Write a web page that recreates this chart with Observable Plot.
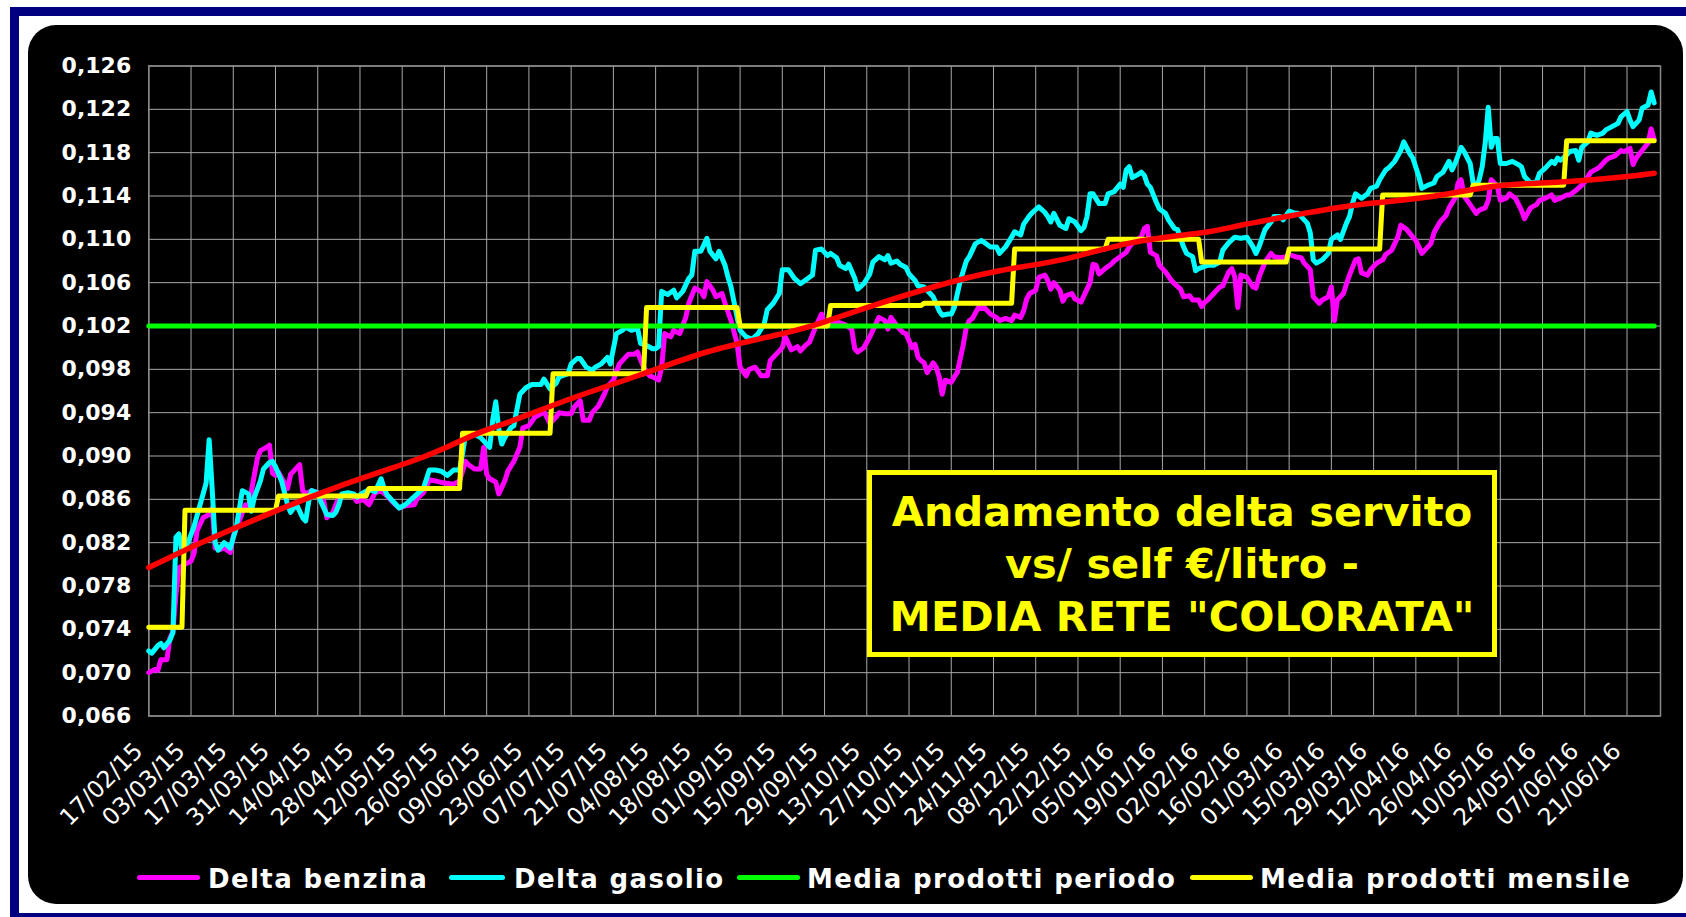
<!DOCTYPE html>
<html><head><meta charset="utf-8">
<script src="https://cdn.jsdelivr.net/npm/d3@7"></script>
<script src="https://cdn.jsdelivr.net/npm/@observablehq/plot@0.6"></script>
<style>
html,body{margin:0;padding:0;background:#fff;width:1686px;height:917px;overflow:hidden;font-family:"DejaVu Sans",Verdana,sans-serif;}
#frame{position:absolute;left:10px;top:7px;width:1720px;height:897px;border:9px solid #000080;background:#fff;}
#panel{position:absolute;left:28px;top:25px;width:1655px;height:879px;border-radius:28px;background:#000;}
#chart{position:absolute;left:0;top:0;}
#box{position:absolute;left:867px;top:469.5px;width:630px;height:187px;box-sizing:border-box;border:5px solid #ffff00;background:#000;color:#ffff00;font-weight:bold;font-size:41.5px;line-height:52.5px;text-align:center;padding-top:11px;white-space:nowrap;}
.lg-line{position:absolute;height:5px;border-radius:3px;top:874.5px;}
.lg-text{position:absolute;top:866px;font-size:26px;line-height:26px;letter-spacing:1.4px;font-weight:bold;color:#fff;white-space:nowrap;}
</style></head><body>
<div id="frame"></div>
<div id="panel"></div>
<div id="chart"></div>
<div id="box"><div>Andamento delta servito</div><div>vs/ self €/litro -</div><div>MEDIA RETE "COLORATA"</div></div>
<div id="legend"></div>
<script>
// ---- data (day offset from start date, value in €/litro) ----
const startDate = "2015-02-17";
const axisEndDay = 501.1;

const xTickLabels = ["17/02/15","03/03/15","17/03/15","31/03/15","14/04/15","28/04/15","12/05/15","26/05/15","09/06/15","23/06/15","07/07/15","21/07/15","04/08/15","18/08/15","01/09/15","15/09/15","29/09/15","13/10/15","27/10/15","10/11/15","24/11/15","08/12/15","22/12/15","05/01/16","19/01/16","02/02/16","16/02/16","01/03/16","15/03/16","29/03/16","12/04/16","26/04/16","10/05/16","24/05/16","07/06/16","21/06/16"];
const yTicks = [0.066,0.070,0.074,0.078,0.082,0.086,0.090,0.094,0.098,0.102,0.106,0.110,0.114,0.118,0.122,0.126];

const benzina = [[0,0.0700],[2,0.0703],[3,0.0702],[4,0.0712],[6,0.0712],[7,0.0732],[8,0.0738],[9,0.0772],[10,0.0797],[12,0.0800],[14,0.0803],[15,0.0810],[16,0.0831],[18,0.0843],[20,0.0846],[21,0.0852],[22,0.0815],[24,0.0814],[25,0.0815],[27,0.0811],[28,0.0826],[30,0.0840],[32,0.0855],[33,0.0852],[36,0.0898],[37,0.0905],[39,0.0908],[40,0.0910],[41,0.0884],[42,0.0882],[43,0.0885],[46,0.0870],[47,0.0883],[49,0.0889],[50,0.0892],[51,0.0868],[52,0.0865],[54,0.0868],[56,0.0866],[58,0.0858],[59,0.0843],[61,0.0848],[63,0.0862],[66,0.0865],[68,0.0862],[69,0.0858],[71,0.0860],[73,0.0855],[75,0.0866],[77,0.0868],[79,0.0863],[81,0.0857],[83,0.0852],[85,0.0854],[88,0.0855],[89,0.0861],[91,0.0866],[93,0.0878],[95,0.0877],[98,0.0875],[101,0.0874],[103,0.0877],[105,0.0895],[106,0.0892],[108,0.0888],[110,0.0888],[111,0.0908],[112,0.0883],[113,0.0879],[115,0.0876],[116,0.0865],[118,0.0877],[119,0.0886],[121,0.0895],[123,0.0908],[124,0.0926],[126,0.0928],[128,0.0936],[130,0.0939],[131,0.0941],[133,0.0930],[135,0.0936],[136,0.0940],[138,0.0939],[140,0.0939],[141,0.0945],[143,0.0951],[144,0.0933],[146,0.0933],[147,0.0940],[149,0.0946],[151,0.0957],[152,0.0964],[154,0.0970],[156,0.0985],[157,0.0988],[159,0.0994],[161,0.0994],[162,0.0996],[164,0.0982],[166,0.0974],[167,0.0973],[169,0.0970],[170,0.0982],[171,0.1013],[173,0.1010],[174,0.1016],[176,0.1013],[178,0.1028],[179,0.1041],[181,0.1055],[183,0.1052],[184,0.1047],[185,0.1061],[187,0.1053],[188,0.1047],[190,0.1050],[191,0.1041],[193,0.1025],[195,0.1004],[196,0.0982],[198,0.0974],[199,0.0980],[201,0.0982],[203,0.0974],[205,0.0974],[206,0.0988],[208,0.0994],[210,0.1000],[211,0.1010],[213,0.0998],[215,0.1001],[216,0.0997],[218,0.1003],[219,0.1005],[221,0.1019],[223,0.1031],[224,0.1022],[226,0.1022],[228,0.1023],[229,0.1023],[231,0.1021],[233,0.1017],[234,0.0999],[235,0.0996],[237,0.1000],[239,0.1010],[240,0.1016],[242,0.1028],[244,0.1025],[245,0.1017],[246,0.1028],[248,0.1020],[250,0.1014],[251,0.1013],[253,0.1000],[254,0.1003],[255,0.0991],[256,0.0988],[257,0.0986],[258,0.0977],[260,0.0986],[261,0.0982],[262,0.0973],[263,0.0957],[264,0.0970],[266,0.0968],[267,0.0973],[268,0.0977],[270,0.1003],[271,0.1019],[272,0.1025],[273,0.1027],[275,0.1037],[276,0.1036],[277,0.1037],[279,0.1031],[281,0.1028],[282,0.1025],[284,0.1027],[286,0.1025],[287,0.1030],[289,0.1028],[290,0.1034],[291,0.1045],[292,0.1050],[294,0.1053],[295,0.1065],[297,0.1067],[298,0.1062],[299,0.1054],[300,0.1060],[302,0.1053],[303,0.1043],[304,0.1048],[306,0.1050],[307,0.1045],[309,0.1042],[310,0.1048],[312,0.1060],[313,0.1077],[314,0.1076],[315,0.1068],[317,0.1073],[319,0.1077],[320,0.1080],[322,0.1084],[324,0.1088],[325,0.1093],[327,0.1099],[329,0.1102],[330,0.1110],[331,0.1112],[332,0.1088],[334,0.1085],[335,0.1076],[337,0.1070],[339,0.1062],[340,0.1059],[342,0.1054],[343,0.1047],[345,0.1048],[346,0.1044],[348,0.1044],[349,0.1038],[350,0.1042],[351,0.1044],[353,0.1050],[355,0.1056],[356,0.1057],[358,0.1070],[359,0.1073],[360,0.1065],[361,0.1037],[362,0.1067],[364,0.1065],[366,0.1056],[367,0.1055],[368,0.1065],[370,0.1079],[372,0.1087],[373,0.1084],[375,0.1083],[377,0.1084],[378,0.1086],[380,0.1084],[382,0.1083],[383,0.1078],[385,0.1072],[386,0.1047],[388,0.1041],[389,0.1044],[391,0.1047],[392,0.1056],[393,0.1025],[394,0.1044],[396,0.1050],[397,0.1059],[398,0.1067],[400,0.1081],[401,0.1082],[402,0.1069],[404,0.1067],[405,0.1072],[407,0.1078],[409,0.1081],[410,0.1086],[412,0.1090],[414,0.1102],[415,0.1113],[417,0.1109],[419,0.1102],[420,0.1099],[422,0.1087],[423,0.1090],[425,0.1096],[426,0.1106],[428,0.1116],[430,0.1122],[431,0.1129],[433,0.1138],[434,0.1152],[435,0.1155],[436,0.1140],[438,0.1132],[440,0.1124],[441,0.1127],[443,0.1129],[444,0.1136],[445,0.1155],[447,0.1149],[448,0.1136],[450,0.1138],[451,0.1142],[453,0.1138],[455,0.1127],[456,0.1119],[458,0.1129],[460,0.1132],[461,0.1136],[463,0.1138],[465,0.1141],[466,0.1136],[468,0.1138],[470,0.1141],[471,0.1141],[473,0.1145],[475,0.1150],[476,0.1153],[478,0.1162],[480,0.1165],[481,0.1167],[483,0.1173],[484,0.1175],[486,0.1177],[488,0.1182],[489,0.1181],[491,0.1184],[492,0.1169],[493,0.1175],[495,0.1182],[497,0.1189],[498,0.1202],[499,0.1192]];

const gasolio = [[0,0.0720],[1,0.0718],[3,0.0725],[4,0.0727],[5,0.0723],[7,0.0730],[8,0.0737],[9,0.0825],[10,0.0828],[11,0.0812],[13,0.0820],[15,0.0835],[17,0.0855],[19,0.0875],[20,0.0915],[21,0.0870],[22,0.0820],[23,0.0813],[25,0.0820],[27,0.0815],[29,0.0834],[31,0.0868],[33,0.0865],[34,0.0849],[35,0.0862],[37,0.0877],[38,0.0888],[40,0.0894],[41,0.0895],[42,0.0890],[44,0.0877],[46,0.0855],[47,0.0848],[48,0.0852],[49,0.0855],[51,0.0843],[52,0.0840],[53,0.0858],[54,0.0868],[56,0.0866],[57,0.0858],[59,0.0846],[61,0.0845],[62,0.0848],[63,0.0855],[64,0.0865],[66,0.0866],[68,0.0865],[69,0.0862],[71,0.0866],[73,0.0869],[75,0.0867],[77,0.0879],[78,0.0870],[79,0.0864],[81,0.0858],[83,0.0852],[85,0.0855],[87,0.0860],[89,0.0865],[91,0.0870],[93,0.0887],[95,0.0887],[97,0.0886],[99,0.0882],[101,0.0887],[103,0.0887],[104,0.0902],[105,0.0920],[108,0.0920],[110,0.0917],[112,0.0911],[113,0.0908],[114,0.0933],[115,0.0950],[116,0.0925],[117,0.0911],[118,0.0917],[120,0.0926],[121,0.0928],[123,0.0957],[125,0.0963],[127,0.0966],[130,0.0966],[131,0.0971],[133,0.0962],[135,0.0967],[136,0.0973],[139,0.0976],[140,0.0985],[142,0.0990],[143,0.0990],[145,0.0982],[147,0.0979],[148,0.0982],[150,0.0985],[152,0.0991],[153,0.0985],[155,0.1013],[157,0.1016],[158,0.1019],[160,0.1016],[162,0.1018],[163,0.1004],[165,0.1002],[167,0.0999],[168,0.0999],[169,0.1001],[170,0.1052],[172,0.1049],[174,0.1053],[175,0.1046],[177,0.1052],[179,0.1064],[180,0.1067],[181,0.1089],[183,0.1089],[185,0.1101],[186,0.1089],[188,0.1082],[189,0.1089],[191,0.1076],[192,0.1065],[193,0.1056],[195,0.1028],[196,0.1016],[198,0.1010],[200,0.1008],[202,0.1013],[204,0.1022],[205,0.1035],[207,0.1041],[209,0.1050],[210,0.1072],[212,0.1072],[214,0.1064],[216,0.1059],[218,0.1063],[220,0.1067],[221,0.1090],[223,0.1091],[225,0.1085],[226,0.1087],[228,0.1083],[229,0.1076],[231,0.1073],[232,0.1077],[234,0.1064],[235,0.1054],[237,0.1059],[239,0.1068],[240,0.1079],[242,0.1084],[244,0.1081],[245,0.1085],[246,0.1078],[248,0.1080],[249,0.1077],[251,0.1074],[252,0.1068],[254,0.1062],[255,0.1057],[257,0.1056],[258,0.1053],[260,0.1047],[262,0.1034],[263,0.1030],[265,0.1031],[266,0.1031],[267,0.1037],[269,0.1062],[271,0.1080],[272,0.1084],[274,0.1096],[276,0.1099],[277,0.1097],[279,0.1093],[281,0.1093],[282,0.1087],[284,0.1093],[286,0.1102],[287,0.1107],[289,0.1104],[290,0.1114],[292,0.1122],[293,0.1125],[295,0.1130],[297,0.1125],[298,0.1121],[299,0.1116],[300,0.1124],[302,0.1113],[304,0.1110],[305,0.1119],[307,0.1116],[309,0.1108],[310,0.1111],[311,0.1121],[312,0.1142],[313,0.1142],[315,0.1133],[317,0.1133],[318,0.1142],[320,0.1144],[322,0.1151],[323,0.1148],[324,0.1164],[325,0.1167],[326,0.1157],[328,0.1160],[329,0.1162],[330,0.1159],[331,0.1151],[332,0.1148],[334,0.1134],[335,0.1128],[337,0.1124],[338,0.1118],[340,0.1110],[341,0.1109],[343,0.1093],[344,0.1087],[346,0.1084],[347,0.1071],[348,0.1073],[350,0.1075],[351,0.1076],[353,0.1076],[355,0.1079],[356,0.1090],[358,0.1097],[360,0.1102],[362,0.1101],[364,0.1102],[366,0.1093],[367,0.1087],[368,0.1093],[370,0.1109],[372,0.1116],[373,0.1121],[375,0.1121],[376,0.1118],[378,0.1126],[380,0.1124],[381,0.1124],[382,0.1121],[384,0.1115],[385,0.1106],[386,0.1081],[387,0.1078],[389,0.1081],[391,0.1087],[392,0.1100],[394,0.1104],[395,0.1100],[397,0.1115],[398,0.1121],[399,0.1133],[400,0.1142],[402,0.1138],[404,0.1142],[405,0.1147],[407,0.1149],[408,0.1155],[410,0.1164],[411,0.1166],[413,0.1172],[415,0.1182],[416,0.1190],[418,0.1179],[419,0.1175],[421,0.1158],[422,0.1147],[424,0.1150],[426,0.1152],[427,0.1158],[429,0.1162],[431,0.1172],[432,0.1164],[433,0.1170],[435,0.1185],[436,0.1181],[438,0.1170],[439,0.1152],[440,0.1149],[441,0.1155],[442,0.1167],[443,0.1189],[444,0.1222],[445,0.1185],[446,0.1193],[447,0.1193],[448,0.1170],[450,0.1170],[452,0.1172],[454,0.1169],[455,0.1167],[456,0.1158],[458,0.1152],[460,0.1153],[461,0.1161],[463,0.1166],[465,0.1172],[466,0.1170],[467,0.1175],[468,0.1173],[470,0.1178],[471,0.1181],[473,0.1182],[474,0.1173],[475,0.1185],[477,0.1190],[478,0.1198],[480,0.1196],[482,0.1198],[483,0.1201],[485,0.1204],[487,0.1207],[488,0.1213],[490,0.1218],[491,0.1210],[492,0.1204],[494,0.1210],[495,0.1221],[497,0.1224],[498,0.1236],[499,0.1226]];

const mediaPeriodo = 0.102;
const periodoDays = [0, 499];

const monthLabels = ["2015-02","2015-03","2015-04","2015-05","2015-06","2015-07","2015-08","2015-09","2015-10","2015-11","2015-12","2016-01","2016-02","2016-03","2016-04","2016-05","2016-06"];
const monthlyValues = [0.0742,0.0850,0.0863,0.0870,0.0921,0.0976,0.1037,0.1020,0.1039,0.1041,0.1091,0.1100,0.1079,0.1091,0.1141,0.1150,0.1191];

const trend = [[0,0.0797],[19,0.0822],[41,0.0848],[63,0.0872],[86,0.0894],[97,0.0906],[110,0.0922],[119,0.0931],[141,0.0954],[163,0.0975],[185,0.0996],[207,0.1011],[222,0.1022],[238,0.1037],[260,0.1056],[282,0.1071],[304,0.1082],[326,0.1097],[349,0.1106],[362,0.1113],[379,0.1122],[401,0.1132],[424,0.1139],[446,0.1149],[468,0.1153],[490,0.1158],[499,0.1161]];

const legendItems = [
  {label:"Delta benzina", color:"#ff00ff"},
  {label:"Delta gasolio", color:"#00ffff"},
  {label:"Media prodotti periodo", color:"#00ff00"},
  {label:"Media prodotti mensile", color:"#ffff00"}
];

// ---- build ----
const t0 = d3.utcParse("%Y-%m-%d")(startDate);
const DAY = 864e5;
const toDate = d => new Date(+t0 + d * DAY);
const rows = arr => arr.map(([d, v]) => ({date: toDate(d), value: v}));
const lastDate = toDate(periodoDays[1]);

const parseTick = d3.utcParse("%d/%m/%y");
const monthRows = [];
monthLabels.forEach((m, i) => {
  const ms = d3.utcParse("%Y-%m")(m);
  const s = ms < t0 ? t0 : ms;
  const next = d3.utcMonth.offset(ms, 1);
  const e0 = new Date(+next - DAY);
  const e = e0 > lastDate ? lastDate : e0;
  monthRows.push({date: s, value: monthlyValues[i]}, {date: e, value: monthlyValues[i]});
});
const periodoRows = periodoDays.map(d => ({date: toDate(d), value: mediaPeriodo}));
const fmtY = d => d.toFixed(3).replace(".", ",");
const lineOpts = {x: "date", y: "value", strokeWidth: 5, strokeLinejoin: "round", strokeLinecap: "round"};

const chart = Plot.plot({
  width: 1686, height: 850,
  marginLeft: 148.3, marginRight: 26, marginTop: 65.5, marginBottom: 134.5,
  style: {background: "transparent", color: "white", fontFamily: "DejaVu Sans, Verdana, sans-serif", overflow: "visible"},
  x: {type: "utc", domain: [t0, toDate(axisEndDay)], axis: null},
  y: {domain: [0.066, 0.126], axis: null},
  marks: [
    Plot.gridY(yTicks, {stroke: "#a8a8a8", strokeOpacity: 1, strokeWidth: 1}),
    Plot.gridX(xTickLabels.map(parseTick), {stroke: "#a8a8a8", strokeOpacity: 1, strokeWidth: 1}),
    Plot.frame({stroke: "#8a8a8a", strokeWidth: 1.5}),
    Plot.text(yTicks, {y: d => d, text: fmtY, frameAnchor: "left", dx: -17.6, textAnchor: "end", fill: "white", fontSize: 22, fontWeight: "bold"}),
    Plot.text(xTickLabels, {x: s => parseTick(s), text: s => s, frameAnchor: "bottom", rotate: -45, textAnchor: "end", lineAnchor: "middle", dy: 31, dx: -10, fill: "white", fontSize: 23.5}),
    Plot.line(rows(benzina), {...lineOpts, stroke: "#ff00ff"}),
    Plot.line(rows(gasolio), {...lineOpts, stroke: "#00ffff"}),
    Plot.line(periodoRows, {...lineOpts, stroke: "#00ff00"}),
    Plot.line(monthRows, {...lineOpts, stroke: "#ffff00"}),
    Plot.line(rows(trend), {...lineOpts, stroke: "#ff0000", strokeWidth: 5.5, curve: "natural"})
  ]
});
document.getElementById("chart").appendChild(chart);

// legend
const lgPos = [[137, 200, 208], [449, 505, 514], [737, 800, 807], [1190, 1253, 1260]];
const lg = document.getElementById("legend");
legendItems.forEach((it, i) => {
  const [a, b, t] = lgPos[i];
  const ln = document.createElement("div");
  ln.className = "lg-line"; ln.style.left = a + "px"; ln.style.width = (b - a) + "px"; ln.style.background = it.color;
  const tx = document.createElement("div");
  tx.className = "lg-text"; tx.style.left = t + "px"; tx.textContent = it.label;
  lg.appendChild(ln); lg.appendChild(tx);
});
</script>
</body></html>
